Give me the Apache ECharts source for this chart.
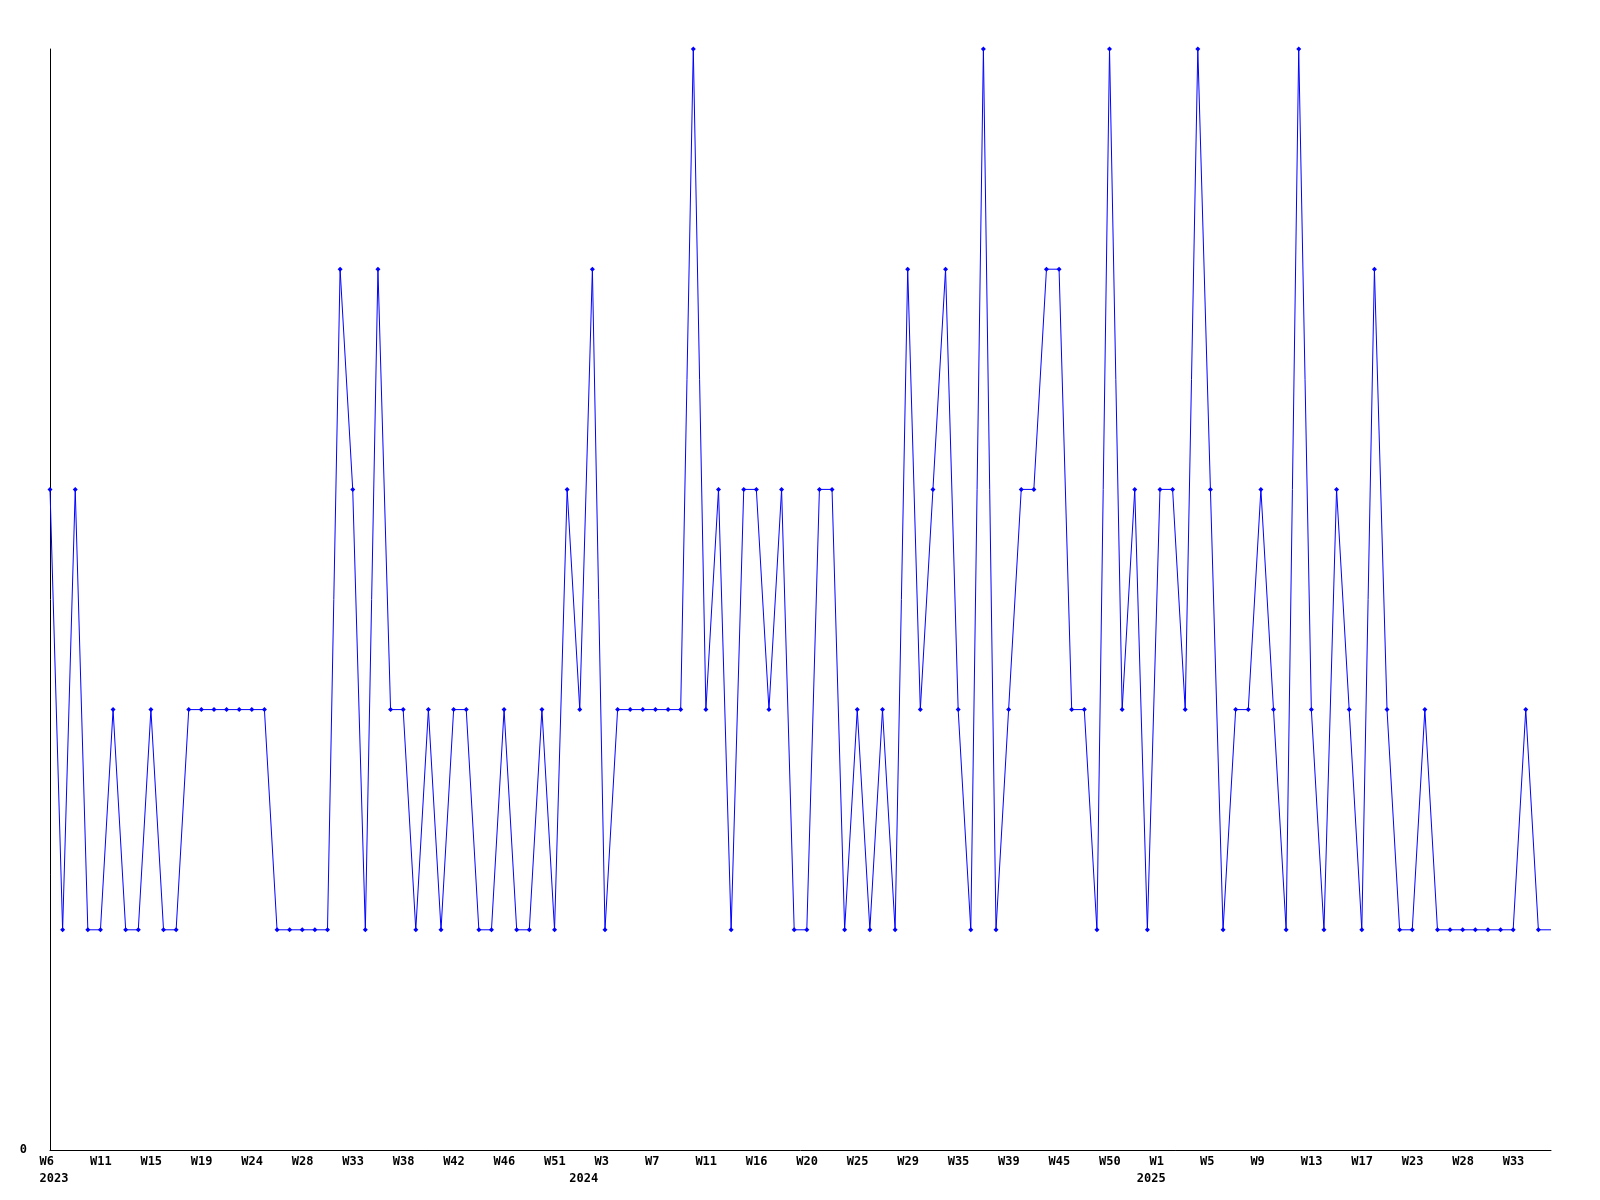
<!DOCTYPE html>
<html>
<head>
<meta charset="utf-8">
<script src="https://cdn.jsdelivr.net/npm/echarts@6/dist/echarts.min.js"></script>
<style>
html,body{margin:0;padding:0;background:#fff;}
#chart{width:1600px;height:1200px;}
</style>
</head>
<body>
<div id="chart"></div>
<script>
// series values, one per point (weekly samples)
const values = [
  3,1,3,1,1,2,1,1,2,1,
  1,2,2,2,2,2,2,2,1,1,
  1,1,1,4,3,1,4,2,2,1,
  2,1,2,2,1,1,2,1,1,2,
  1,3,2,4,1,2,2,2,2,2,
  2,5,2,3,1,3,3,2,3,1,
  1,3,3,1,2,1,2,1,4,2,
  3,4,2,1,5,1,2,3,3,4,
  4,2,2,1,5,2,3,1,3,3,
  2,5,3,1,2,2,3,2,1,5,
  2,1,3,2,1,4,2,1,1,2,
  1,1,1,1,1,1,1,2,1,1
];
// tick labels, shown at every 4th point
const weekTicks = ['W6','W11','W15','W19','W24','W28','W33','W38','W42','W46',
  'W51','W3','W7','W11','W16','W20','W25','W29','W35','W39',
  'W45','W50','W1','W5','W9','W13','W17','W23','W28','W33'];
// year labels, at the first point of each year
const yearIndex = [0, 42, 87];
const yearText = ['2023', '2024', '2025'];
const tickStep = 4;

const categories = values.map((v, i) => String(i));
const lastIdx = values.length - 1;
const seriesData = values.map((v, i) => i === lastIdx ? {value: v, symbol: 'none'} : v);

const FONT = 'DejaVu Sans Mono';
const chart = echarts.init(document.getElementById('chart'));
chart.setOption({
  animation: false,
  backgroundColor: '#ffffff',
  grid: {left: 50, right: 49, top: 49, bottom: 50, containLabel: false},
  xAxis: {
    type: 'category',
    data: categories,
    boundaryGap: false,
    axisLine: {show: true, lineStyle: {color: '#000', width: 1}},
    axisTick: {show: false},
    splitLine: {show: false},
    axisLabel: {
      interval: function (idx) { return idx % tickStep === 0 || yearIndex.indexOf(idx) >= 0; },
      margin: 3,
      align: 'center',
      formatter: function (val, idx) {
        const i = Number(val);
        let top = (i % tickStep === 0 && weekTicks[i / tickStep]) ? weekTicks[i / tickStep] : ' ';
        const y = yearIndex.indexOf(i);
        if (y >= 0) return '{a|' + top + '}\n{a|' + yearText[y] + '}';
        return '{a|' + top + '}';
      },
      rich: {
        a: {width: 21, align: 'left', fontFamily: FONT, fontSize: 12, fontWeight: 'bold', color: '#000', lineHeight: 17}
      }
    }
  },
  yAxis: {
    type: 'value',
    min: 0, max: 5, interval: 5,
    axisLine: {show: true, lineStyle: {color: '#000', width: 1}},
    axisTick: {show: false},
    splitLine: {show: false},
    axisLabel: {
      showMaxLabel: false,
      margin: 23,
      padding: [4, 0, 0, 0],
      fontFamily: FONT, fontSize: 12, fontWeight: 'bold', color: '#000'
    }
  },
  series: [{
    type: 'line',
    data: seriesData,
    symbol: 'diamond',
    symbolSize: 5,
    showAllSymbol: true,
    lineStyle: {color: '#0000ff', width: 1},
    itemStyle: {color: '#0000ff'},
    emphasis: {disabled: true}
  }]
});
</script>
</body>
</html>
